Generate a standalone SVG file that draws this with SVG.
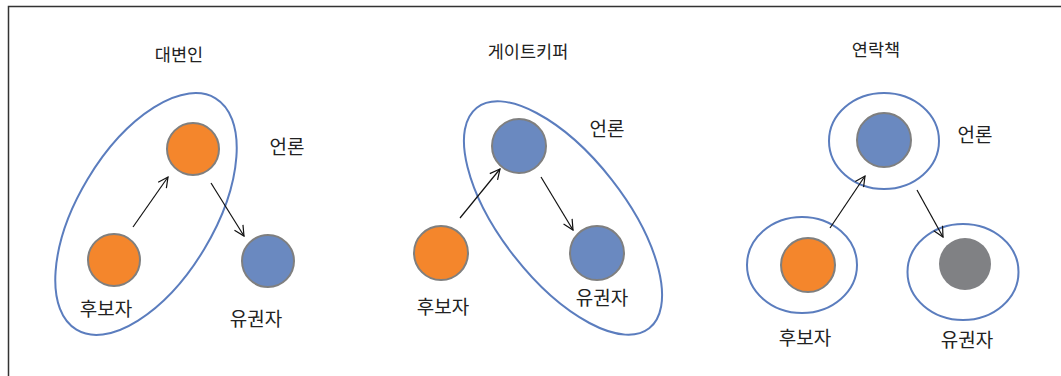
<svg xmlns="http://www.w3.org/2000/svg" width="1061" height="376" viewBox="0 0 1061 376">
<defs>
<style>
.t{font-family:"Noto Sans CJK KR","Noto Sans",sans-serif;fill:#222;text-anchor:middle}
.ti{font-size:17.5px}
.lb{font-size:19px}
.ring{fill:none;stroke:#5B7DBE;stroke-width:2}
.or{fill:#F4862C;stroke:#7F7F7F;stroke-width:2}
.bl{fill:#6A89C0;stroke:#7F7F7F;stroke-width:2}
.gr{fill:#808184}
.cn{stroke:#111;stroke-width:1.2;fill:none;marker-end:url(#ah)}
</style>
<marker id="ah" viewBox="0 0 12 12" refX="11" refY="6" markerWidth="12" markerHeight="12" markerUnits="userSpaceOnUse" orient="auto">
<path d="M1,1 L11,6 L1,11" fill="none" stroke="#111" stroke-width="1.2"/>
</marker>
</defs>
<rect width="1061" height="376" fill="#fff"/>
<path d="M8.5,376 V6.5 H1061" fill="none" stroke="#333" stroke-width="1.5"/>

<text class="t ti" x="179" y="61">대변인</text>
<text class="t ti" x="528" y="58">게이트키퍼</text>
<text class="t ti" x="876" y="56">연락책</text>

<g id="p1-group"><ellipse class="ring" cx="146" cy="214" rx="135" ry="68" transform="rotate(-59 146 214)"/></g>
<g id="p1-media"><circle class="or" cx="193" cy="149" r="26"/><text class="t lb" x="287" y="154">언론</text></g>
<g id="p1-candidate"><circle class="or" cx="114" cy="260" r="26"/><text class="t lb" x="106" y="316">후보자</text></g>
<g id="p1-voter"><circle class="bl" cx="268" cy="261" r="26"/><text class="t lb" x="256" y="326">유권자</text></g>

<g id="p2-group"><ellipse class="ring" cx="563" cy="218" rx="140" ry="62" transform="rotate(52 563 218)"/></g>
<g id="p2-media"><circle class="bl" cx="519" cy="146" r="27"/><text class="t lb" x="607" y="136">언론</text></g>
<g id="p2-candidate"><circle class="or" cx="441" cy="253" r="27"/><text class="t lb" x="443" y="314">후보자</text></g>
<g id="p2-voter"><circle class="bl" cx="597" cy="253" r="27"/><text class="t lb" x="602" y="305">유권자</text></g>

<g id="p3-media"><ellipse class="ring" cx="884" cy="141" rx="55" ry="48"/><circle class="bl" cx="884" cy="140" r="27"/><text class="t lb" x="975" y="142">언론</text></g>
<g id="p3-candidate"><ellipse class="ring" cx="802" cy="265" rx="55" ry="48"/><circle class="or" cx="808" cy="265" r="27"/><text class="t lb" x="805" y="345">후보자</text></g>
<g id="p3-voter"><ellipse class="ring" cx="963" cy="272" rx="55.5" ry="48"/><circle class="gr" cx="965" cy="264" r="26"/><text class="t lb" x="967" y="347">유권자</text></g>

<g id="connectors">
<line class="cn" x1="133" y1="227" x2="168" y2="177"/>
<line class="cn" x1="211" y1="183" x2="244" y2="236"/>
<line class="cn" x1="460" y1="218" x2="500" y2="169"/>
<line class="cn" x1="541" y1="177" x2="573" y2="230"/>
<line class="cn" x1="830" y1="228" x2="865" y2="176"/>
<line class="cn" x1="917" y1="190" x2="943" y2="237"/>
</g>
</svg>
